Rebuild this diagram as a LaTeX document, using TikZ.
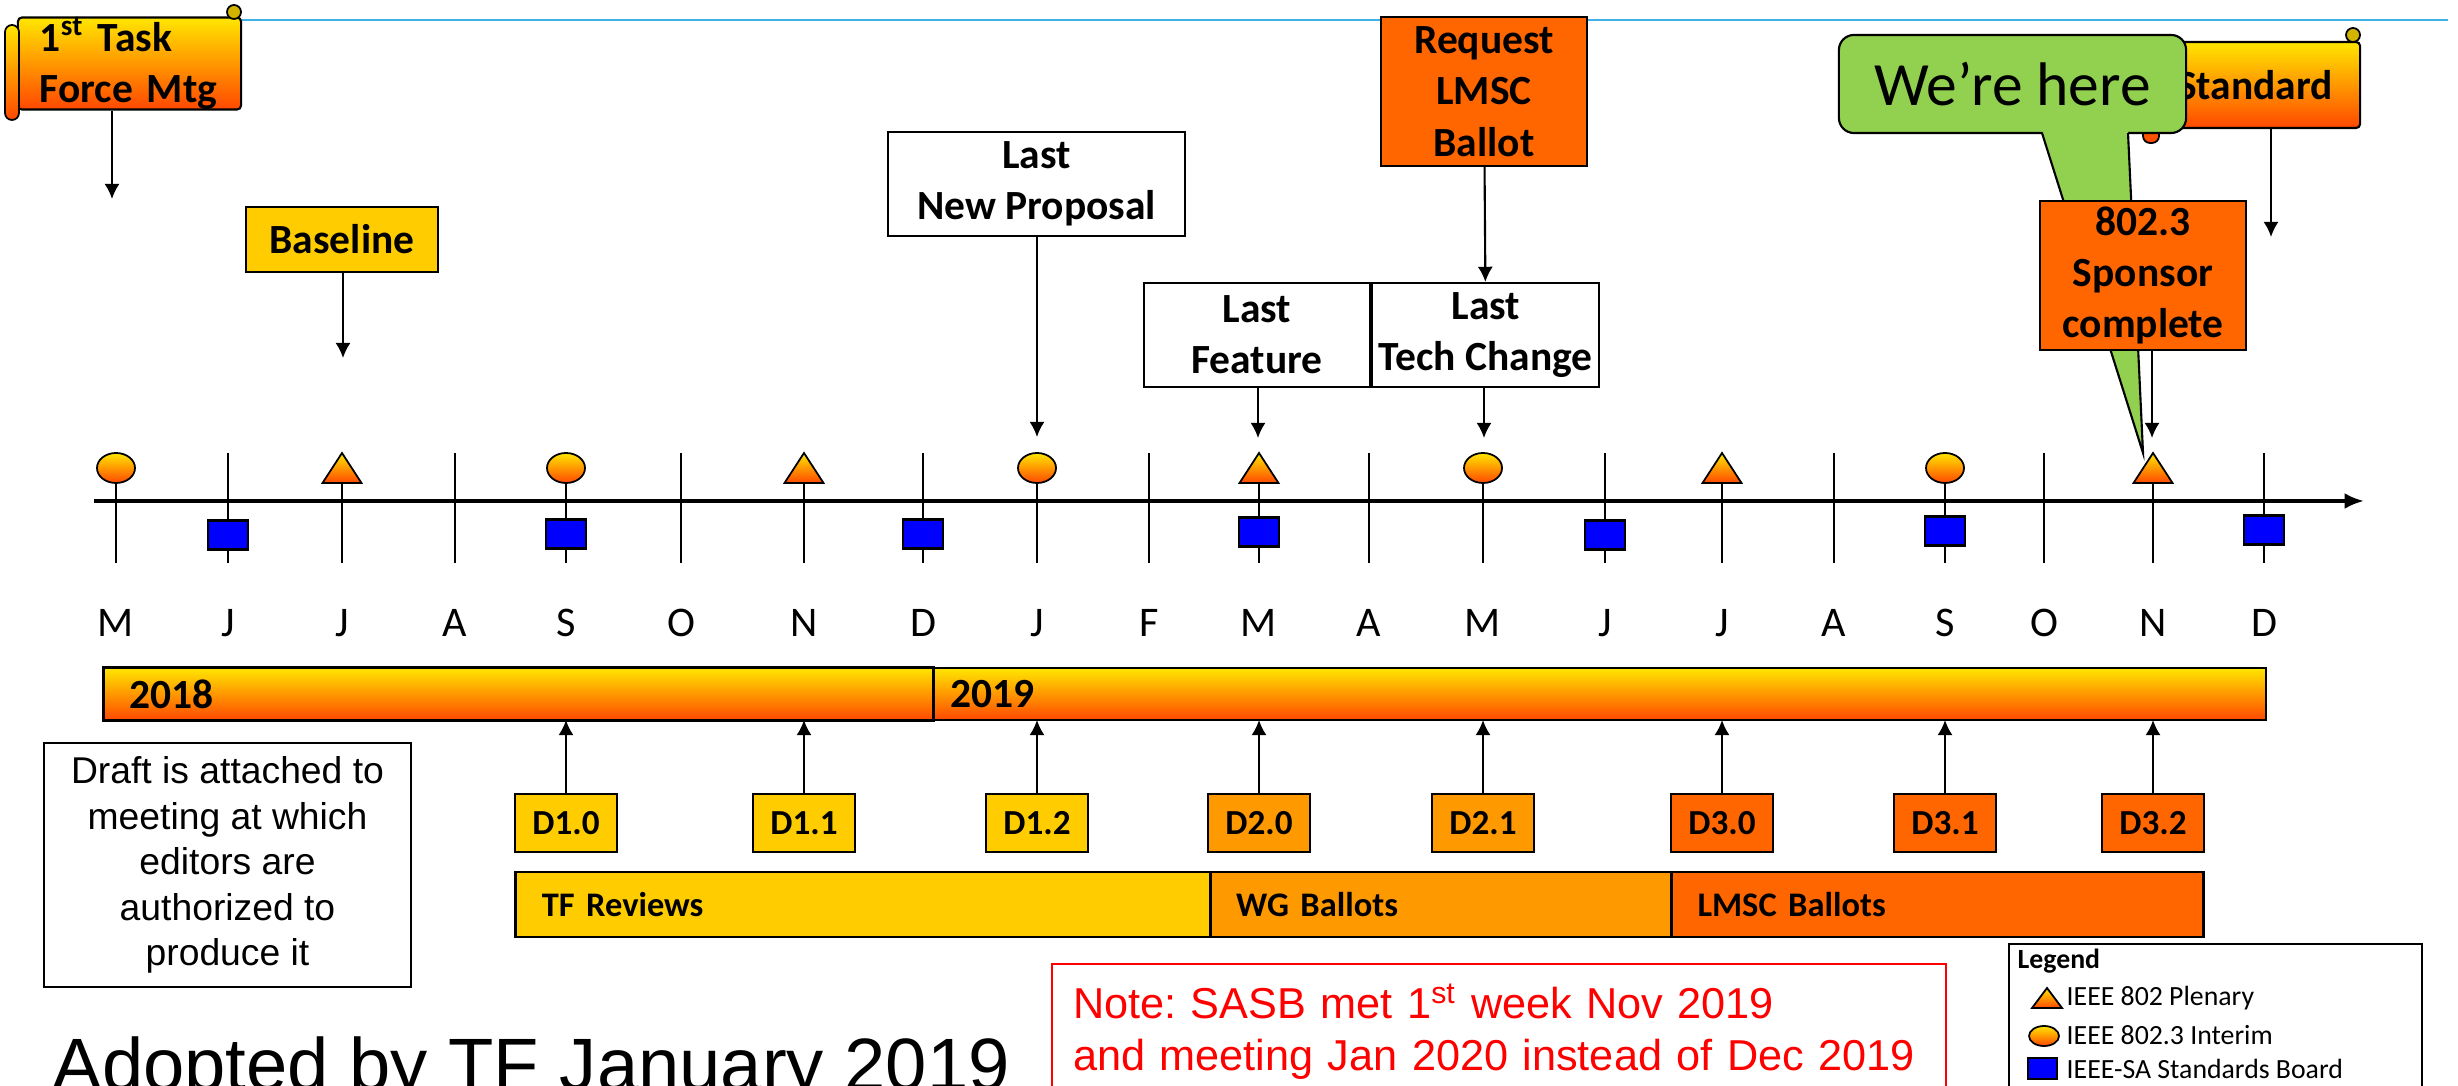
\documentclass[tikz,border=0pt]{standalone}
\usepackage{fontspec}
\setmainfont{Carlito}
\newfontfamily\arialfont{Liberation Sans}
\usepackage{tikz}
\usetikzlibrary{
  calc,
  positioning,
  arrows.meta
}
\tikzset{>={Latex[length=4.3pt,width=4.3pt]}}
\definecolor{gold}{HTML}{FFCC00}
\definecolor{amber}{HTML}{FF9900}
\definecolor{tangerine}{HTML}{FF6600}
\definecolor{gradtop}{HTML}{FFE600}
\definecolor{gradmid}{HTML}{FFDC00}
\definecolor{gradbot}{HTML}{FF4800}
\definecolor{leaf}{HTML}{92D050}
\definecolor{sky}{HTML}{3FB3E8}
\definecolor{curl}{HTML}{D2B400}
\definecolor{sasb}{HTML}{0000FF}
\newcommand{\milefont}{\bfseries\fontsize{11.8}{14.6}\selectfont}
\newcommand{\smallcal}{\fontsize{7.9}{9}\selectfont}
\frenchspacing

\begin{document}
\begin{tikzpicture}[x=0.01cm, y=-0.01cm,
  mile/.style = {rectangle, draw, line width=0.6pt, align=center, inner sep=0pt, font=\milefont},
  scroll/.style = {rectangle, draw, line width=0.6pt, rounded corners=0.04cm, top color=gradtop, middle color=gradmid, bottom color=gradbot, inner sep=0pt, font=\milefont},
  draft/.style = {rectangle, draw, line width=0.6pt, minimum width=1.02cm, minimum height=0.58cm, inner sep=0pt, font=\bfseries\fontsize{10}{12}\selectfont},
  phase/.style = {rectangle, draw, line width=0.8pt, outer sep=0pt, minimum height=0.65cm, inner xsep=0.26cm, align=left, font=\bfseries\fontsize{9.8}{12}\selectfont},
  yearbar/.style = {rectangle, draw, line width=0.8pt, outer sep=0pt, top color=gradtop, middle color=gradmid, bottom color=gradbot, minimum height=0.52cm, align=left, font=\bfseries\fontsize{11.8}{14}\selectfont},
  grad/.style = {draw, line width=0.5pt, top color=gradtop, middle color=gradmid, bottom color=gradbot},
  mtick/.style = {line width=0.45pt},
  month/.style = {font=\fontsize{12}{14}\selectfont},
  conn/.style = {->, line width=0.6pt}]
				\useasboundingbox (0,0) rectangle (2458,1086);
				\clip (0,0) rectangle (2458,1086);

				% title rule
				\draw[sky, line width=0.6pt] (241,20) -- (2448,20);

				% timeline
				\draw[line width=1pt, -{Latex[length=5.5pt,width=4.5pt]}] (94,501) -- (2364,501);
				\foreach \x/\m [count=\i] in {116/M,228/J,342/J,455/A,566/S,681/O,804/N,923/D,1037/J,1149/F,1259/M,1369/A,1483/M,1605/J,1722/J,1834/A,1945/S,2044/O,2153/N,2264/D}{
					\draw[mtick] (\x,453) -- (\x,563);
					\node[month] (mon\i) at (\x,623) {\m};
				}
				\foreach \x in {342,804,1259,1722,2153}
					\draw[grad] (\x-19.5,483) -- (\x,453) -- (\x+19.5,483) -- cycle;
				\foreach \x in {116,566,1037,1483,1945}
					\draw[grad] (\x,468) ellipse [x radius=0.19cm, y radius=0.15cm];
				\foreach \x/\yy in {228/535,566/534,923/534,1259/532,1605/535,1945/531,2264/530}
					\draw[line width=0.6pt, fill=sasb] (\x-20,\yy-14.5) rectangle (\x+20,\yy+14.5);

				% years
				\node[yearbar, text width=7.77cm, inner xsep=0.26cm] (y2018) at (518.5,694) {2018};
				\node[yearbar, text width=12.98cm, inner xsep=0.17cm, right=0pt of y2018] (y2019) {2019};

				% drafts
				\foreach \x/\nm/\lbl/\col in {566/d10/D1.0/gold, 804/d11/D1.1/gold, 1037/d12/D1.2/gold, 1259/d20/D2.0/amber, 1483/d21/D2.1/amber, 1722/d30/D3.0/tangerine, 1945/d31/D3.1/tangerine, 2153/d32/D3.2/tangerine}{
					\node[draft, fill=\col] (\nm) at (\x,823) {\lbl};
					\draw[conn] (\nm) -- (\nm |- y2019.south);
				}

				% phases
				\node[phase, fill=gold, text width=6.42cm] (tfrev) at (863,904.5) {TF Reviews};
				\node[phase, fill=amber, text width=4.09cm, right=0pt of tfrev] (wgbal) {WG Ballots};
				\node[phase, fill=tangerine, text width=4.80cm, right=0pt of wgbal] (lmscbal) {LMSC Ballots};

				% notes
				\node[draw, line width=0.6pt, minimum width=3.67cm, minimum height=2.44cm, align=center, font=\arialfont\fontsize{10.6}{12.9}\selectfont] (draftnote) at (227.5,865) {Draft is attached to\\meeting at which\\editors are\\authorized to\\produce it};
				\node[anchor=base west, inner sep=0pt, font=\arialfont\fontsize{21.1}{25}\selectfont] (adopted) at (52,1090) {Adopted by TF January 2019};
				\node[draw=red, text=red, line width=0.6pt, anchor=north west, inner xsep=0.21cm, inner ysep=0.2cm, text width=8.51cm, align=left, font=\arialfont\fontsize{12.3}{14.7}\selectfont] (sasbnote) at (1051,963) {Note: SASB met 1\textsuperscript{st} week Nov 2019\\and meeting Jan 2020 instead of Dec 2019};

				% legend
				\node[draw, line width=0.6pt, anchor=north west, minimum width=4.13cm, minimum height=1.7cm] (legend) at (2008,943) {};
				\node[anchor=west, inner sep=0pt, font=\bfseries\smallcal] (lgtitle) at (2017,961) {Legend};
				\draw[grad] (2032,1008) -- (2047,988) -- (2062,1008) -- cycle;
				\node[anchor=west, inner sep=0pt, font=\smallcal] (lgplen) at (2066,998) {IEEE 802 Plenary};
				\draw[grad] (2044,1036) ellipse [x radius=0.15cm, y radius=0.1cm];
				\node[anchor=west, inner sep=0pt, font=\smallcal] (lgint) at (2066,1035) {IEEE 802.3 Interim};
				\draw[line width=0.6pt, fill=sasb] (2028,1058) rectangle (2057,1079);
				\node[anchor=west, inner sep=0pt, font=\smallcal] (lgsasb) at (2066,1069) {IEEE-SA Standards Board};

				% milestones
				\node[scroll, minimum height=0.87cm, text width=1.79cm, inner xsep=0.22cm, align=left] (tfmtg) at (129.5,63.5) {1\textsuperscript{st} Task\\Force Mtg};
				\draw[grad, rounded corners=0.07cm] (5,25) rectangle (19,120);
				\draw[line width=0.5pt, fill=curl] (234,12) circle (0.07cm);
				\node[mile, fill=gold, minimum width=1.92cm, minimum height=0.65cm] (baseline) at (342,239.5) {Baseline};
				\node[mile, fill=white, minimum width=2.97cm, minimum height=1.04cm] (lastnp) at (1036.5,184) {Last\\New Proposal};
				\node[mile, fill=white, minimum width=2.26cm, minimum height=1.04cm] (lastfeat) at (1257,335) {Last\\Feature};
				\node[mile, fill=white, minimum width=2.27cm, minimum height=1.04cm, right=0pt of lastfeat] (lasttech) {Last\\Tech Change};
				\node[mile, fill=tangerine, minimum width=2.06cm, minimum height=1.49cm] (reqlmsc) at (1484,91.5) {Request\\LMSC\\Ballot};

				\node[scroll, minimum width=2.1cm, minimum height=0.86cm] (stdscroll) at (2255,85) {Standard};
				\draw[grad, rounded corners=0.07cm] (2143,47) rectangle (2159,143);
				\draw[line width=0.5pt, fill=curl] (2353,35) circle (0.07cm);

				\node[draw, line width=0.6pt, fill=leaf, rounded corners=0.15cm, minimum width=3.47cm, minimum height=0.98cm, font=\fontsize{17.5}{20}\selectfont] (here) at (2012.5,84) {We’re here};
				\coordinate (hereTip) at (2143,453);
				\fill[leaf] (2042,130) -- (hereTip) -- (2128,130) -- cycle;
				\draw[line width=0.6pt] (2042,133) -- (hereTip) -- (2128,133);

				\node[mile, fill=tangerine, minimum width=2.06cm, minimum height=1.49cm] (sponsor) at (2143,275.5) {802.3\\Sponsor\\complete};

				% connections
				\coordinate (tfEnd) at (112,199);
				\coordinate (blEnd) at (343,358);
				\coordinate (npEnd) at (1037,437);
				\coordinate (featEnd) at (1258,438);
				\coordinate (techEnd) at (1484,438);
				\coordinate (spEnd) at (2152,438);
				\coordinate (stdEnd) at (2271,237);
				\draw[conn] (tfmtg.south -| tfEnd) -- (tfEnd);
				\draw[conn] (baseline.south -| blEnd) -- (blEnd);
				\draw[conn] (lastnp.south -| npEnd) -- (npEnd);
				\draw[conn] (lastfeat.south -| featEnd) -- (featEnd);
				\draw[conn] (lasttech.south -| techEnd) -- (techEnd);
				\draw[conn] (reqlmsc) -- (lasttech);
				\draw[conn] (sponsor.south -| spEnd) -- (spEnd);
				\draw[conn] (stdscroll.south -| stdEnd) -- (stdEnd);
			\end{tikzpicture}
\end{document}
